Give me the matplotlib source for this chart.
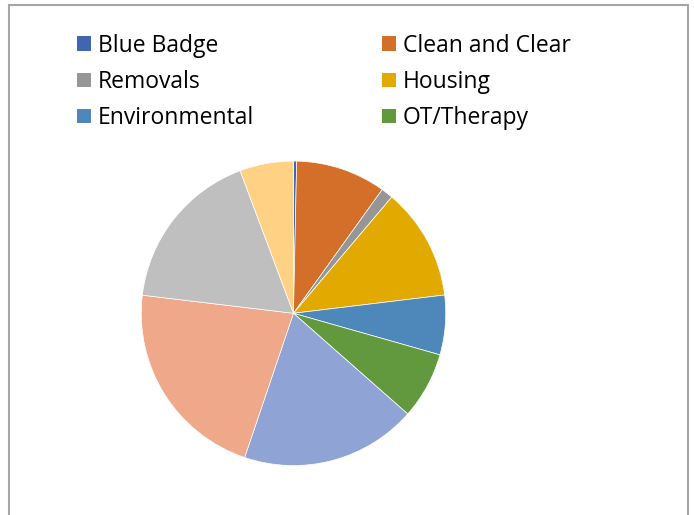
import matplotlib.pyplot as plt
from matplotlib.patches import Rectangle

# data (percent of total, clockwise from 12 o'clock)
labels = ['Blue Badge', 'Clean and Clear', 'Removals', 'Housing',
          'Environmental', 'OT/Therapy', '', '', '', '']
values = [0.33, 9.57, 1.27, 11.91, 6.32, 7.1, 18.7, 21.7, 17.4, 5.7]
colors = ['#4166B0', '#D46F2A', '#969696', '#E2AA00', '#4E88BB',
          '#62993E', '#8FA3D4', '#F0A88A', '#BFBFBF', '#FFD185']
n_legend = 6

W, H = 694, 515
fig = plt.figure(figsize=(W / 100, H / 100), dpi=100)

# outer chart frame (bottom runs off the picture)
fig.patches.append(Rectangle((9 / W, -0.05), (688 - 9) / W, 1.05 - 4.7 / H,
                             transform=fig.transFigure, fill=False,
                             edgecolor='#A6A6A6', linewidth=1.5))

# pie axes: centre (293.5, 313.3) px, radius ~153 px
cx, cy, r = 293.5, 313.3, 153
ax = fig.add_axes([(cx - r) / W, (H - cy - r) / H, 2 * r / W, 2 * r / H])
wedges, _ = ax.pie(values, colors=colors, startangle=90, counterclock=False,
                   wedgeprops=dict(edgecolor='white', linewidth=0.5))
ax.set_xlim(-1.005, 1.005)
ax.set_ylim(-1.005, 1.005)

# legend, two columns
col_x = [77, 382]
row_y = [43.5, 79.5, 115.5]
sq = 14
for i in range(n_legend):
    x = col_x[i % 2]
    y = row_y[i // 2]
    fig.patches.append(Rectangle((x / W, (H - y - sq / 2) / H), sq / W, sq / H,
                                 transform=fig.transFigure,
                                 facecolor=colors[i], edgecolor='none'))
    fig.text((x + 21) / W, (H - y - 8) / H, labels[i], fontsize=16.5,
             family='Open Sans', color='black', va='baseline', ha='left')

fig.savefig('out.png', dpi=100)
